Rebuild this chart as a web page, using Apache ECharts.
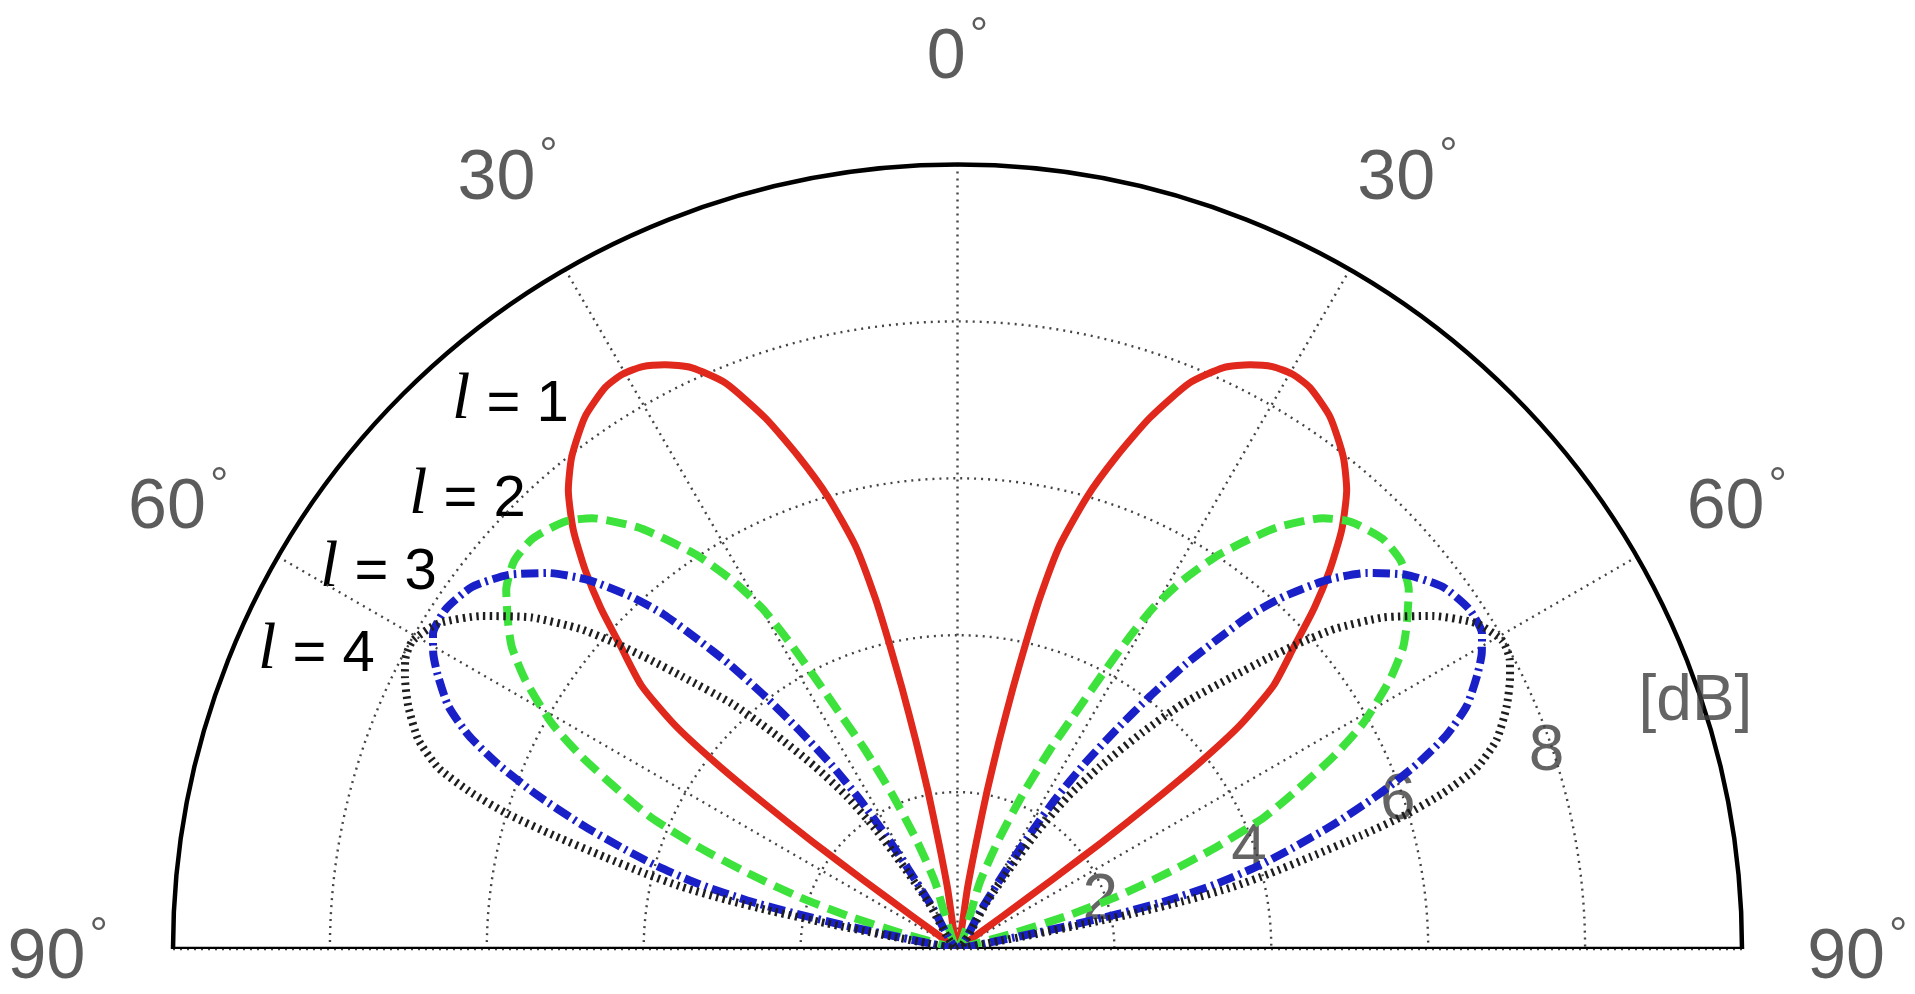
<!DOCTYPE html>
<html>
<head>
<meta charset="utf-8">
<script src="https://cdn.jsdelivr.net/npm/echarts@6/dist/echarts.min.js"></script>
<style>
  html, body { margin: 0; padding: 0; background: #fff; }
  #chart { width: 1915px; height: 994px; }
</style>
</head>
<body>
<div id="chart"></div>
<script>
// Angle ticks (degrees from broadside) and radial ticks (dB)
const angleTicks = [-90, -60, -30, 0, 30, 60, 90];
const radiusTicks = [2, 4, 6, 8];
const radiusUnit = '[dB]';
const orderLabels = ['l = 1', 'l = 2', 'l = 3', 'l = 4'];

// Right-hand lobe of each pattern, traced from its inner edge to its outer edge.
// Angle in degrees, gain in dB (0 dB floor at the centre).
const l1Angle = [9.3, 10.0, 10.6, 11.3, 12.0, 12.6, 13.2, 14.2, 16.0, 17.9, 19.9, 22.3, 24.6, 26.6, 28.4, 30.2, 32.1, 35.0, 38.1, 40.3, 42.5, 44.5, 46.3, 48.1, 50.2, 51.6, 52.4, 53.0, 53.5, 53.8, 54.0];
const l1Gain  = [0.8, 1.4, 2.05, 2.7, 3.4, 4.0, 4.6, 5.3, 6.0, 6.6, 7.2, 7.8, 8.15, 8.33, 8.44, 8.48, 8.45, 8.28, 7.97, 7.67, 7.25, 6.77, 6.29, 5.76, 5.24, 4.6, 3.9, 3.1, 2.3, 1.5, 0.7];

const l2Angle = [18.5, 20.7, 22.9, 24.9, 26.4, 27.7, 28.7, 29.8, 31.4, 33.4, 35.4, 37.2, 40.3, 42.6, 46.0, 48.8, 51.5, 54.1, 55.9, 58.1, 60.9, 62.9, 65.1, 66.8, 68.5, 70.1, 71.8, 73.2, 74.2];
const l2Gain  = [0.9, 1.5, 2.15, 2.8, 3.3, 3.9, 4.45, 5.0, 5.5, 6.0, 6.4, 6.75, 7.2, 7.4, 7.53, 7.51, 7.35, 7.07, 6.86, 6.49, 5.92, 5.38, 4.72, 4.24, 3.55, 2.84, 2.14, 1.45, 0.75];

const l3Angle = [31.0, 31.6, 32.3, 33.2, 34.4, 35.9, 37.3, 38.7, 40.0, 41.3, 42.8, 45.0, 47.4, 50.2, 53.3, 56.4, 59.0, 60.6, 62.2, 64.5, 66.4, 68.1, 69.9, 71.7, 73.2, 74.5, 75.9, 77.0, 77.7, 78.2, 78.5];
const l3Gain  = [0.6, 1.2, 1.75, 2.3, 2.85, 3.45, 4.05, 4.65, 5.15, 5.68, 6.12, 6.65, 7.08, 7.45, 7.72, 7.83, 7.8, 7.67, 7.49, 7.19, 6.8, 6.31, 5.7, 5.04, 4.47, 4.0, 3.4, 2.75, 2.1, 1.42, 0.75];

const l4Angle = [32.0, 33.2, 34.3, 35.9, 38.0, 40.5, 42.6, 45.3, 46.8, 48.2, 49.7, 52.1, 55.0, 57.9, 60.5, 62.3, 63.8, 66.2, 68.8, 70.8, 72.2, 73.3, 74.3, 75.4, 76.4, 77.3, 78.0, 78.5, 78.9, 79.2, 79.4];
const l4Gain  = [0.7, 1.25, 1.82, 2.39, 2.95, 3.63, 4.25, 4.94, 5.4, 5.85, 6.31, 6.88, 7.4, 7.81, 7.98, 7.95, 7.85, 7.65, 7.37, 7.0, 6.5, 5.98, 5.34, 4.64, 4.1, 3.6, 3.0, 2.4, 1.7, 1.0, 0.4];

// The pattern is symmetric about broadside: the left lobe mirrors the right one.
function pattern(angles, gains) {
  const right = angles.map((a, i) => [gains[i], a]);
  const left = right.slice().reverse().map(([r, a]) => [r, -a]);
  return [[0, 0]].concat(left, [[0, 0]], right, [[0, 0]]);
}

const SANS = '"Liberation Sans", Arial, Helvetica, sans-serif';
const SERIF = '"Liberation Serif", "Times New Roman", serif';
const gridStyle = { color: '#444', width: 2.4, type: [2, 5] };

function curve(name, angles, gains, lineStyle) {
  return {
    name, type: 'line', coordinateSystem: 'polar',
    data: pattern(angles, gains),
    showSymbol: false, symbol: 'none', smooth: 0.2,
    clip: false,
    lineStyle: Object.assign({ cap: 'butt', join: 'round' }, lineStyle)
  };
}

const chart = echarts.init(document.getElementById('chart'), null, { renderer: 'canvas' });

chart.setOption({
  animation: false,
  backgroundColor: '#fff',
  polar: { center: [957.5, 949], radius: 784.5 },
  angleAxis: {
    type: 'value', min: -90, max: 90, interval: 30,
    startAngle: 180, endAngle: 0, clockwise: true,
    axisLine: { show: true, lineStyle: { color: '#000', width: 4.5 } },
    axisTick: { show: false },
    axisLabel: { show: false },
    splitLine: { show: true, lineStyle: gridStyle }
  },
  radiusAxis: {
    type: 'value', min: 0, max: 10, interval: 2,
    axisLine: { show: false },
    axisTick: { show: false },
    axisLabel: { show: false },
    splitLine: { show: true, lineStyle: gridStyle }
  },
  series: [
    // diameter along the bottom of the half-plane
    {
      type: 'line', coordinateSystem: 'polar', clip: false, symbol: 'none',
      data: [[10, -90], [0, 0], [10, 90]],
      lineStyle: { color: '#000', width: 4.5 }, z: 3, silent: true
    },
    curve(orderLabels[0], l1Angle, l1Gain, { color: '#e0281c', width: 7 }),
    curve(orderLabels[1], l2Angle, l2Gain, { color: '#3de23d', width: 8, type: [20, 9] }),
    curve(orderLabels[2], l3Angle, l3Gain, { color: '#1a20c8', width: 8, type: [17, 5, 2.5, 5] }),
    curve(orderLabels[3], l4Angle, l4Gain, { color: '#1e1e1e', width: 8, type: [2.4, 4.4] }),
    // angle tick labels outside the rim
    {
      type: 'scatter', coordinateSystem: 'polar', clip: false, symbolSize: 0, silent: true,
      data: angleTicks.map(a => [11.47, a]),
      label: {
        show: true, position: 'inside',
        formatter: p => `{n|${Math.abs(p.value[1])}}{d|°}`,
        rich: {
          n: { fontFamily: SANS, fontSize: 70, lineHeight: 70, padding: [20, 0, 0, 0], color: '#333' },
          d: { fontFamily: SANS, fontSize: 46, lineHeight: 46, verticalAlign: 'top', padding: [0, 0, 0, 4], color: '#333' }
        }
      }
    },
    // radial tick labels and unit
    {
      type: 'scatter', coordinateSystem: 'polar', clip: false, symbolSize: 0, silent: true,
      data: radiusTicks.map(v => ({ name: String(v), value: [v, 71.5] }))
        .concat([{ name: radiusUnit, value: [10, 71.5] }]),
      label: {
        show: true, position: 'inside', formatter: '{b}', offset: [-6, 2],
        fontFamily: SANS, fontSize: 64, color: '#3d3d3d'
      }
    }
  ],
  graphic: orderLabels.map((t, i) => ({
    type: 'text',
    x: [452, 409, 320, 258][i],
    y: [434, 529, 602, 684][i],
    silent: true,
    style: {
      text: `{i|${t.charAt(0)}}{t|${t.slice(1)}}`,
      verticalAlign: 'bottom',
      rich: {
        i: { fontFamily: SERIF, fontStyle: 'italic', fontSize: 66, verticalAlign: 'bottom', fill: '#000', color: '#000' },
        t: { fontFamily: SANS, fontSize: 58, verticalAlign: 'bottom', fill: '#000', color: '#000' }
      }
    }
  }))
});
</script>
</body>
</html>
